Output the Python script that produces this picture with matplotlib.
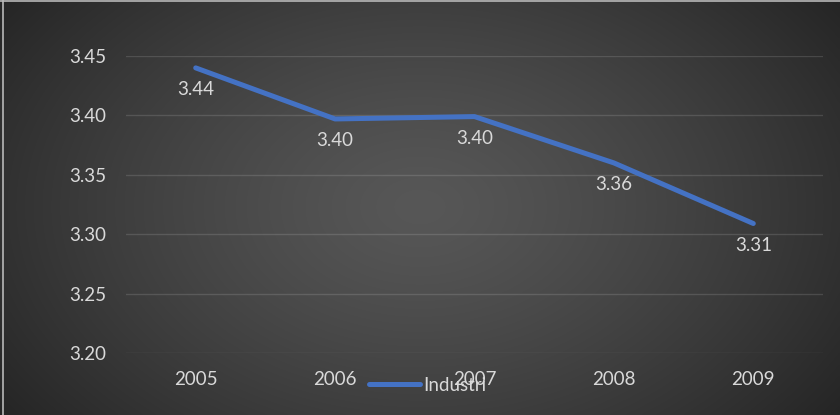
import numpy as np
from matplotlib import pyplot as plt
from matplotlib.lines import Line2D

years = ["2005", "2006", "2007", "2008", "2009"]
industri = [3.44, 3.397, 3.399, 3.36, 3.309]
value_labels = ["3.44", "3.40", "3.40", "3.36", "3.31"]
y_ticks = [3.20, 3.25, 3.30, 3.35, 3.40, 3.45]

W, H = 840, 415
plt.rcParams["font.family"] = ["Lato", "DejaVu Sans"]
FS = 13.5

fig = plt.figure(figsize=(W / 100, H / 100), dpi=100)

# dark radial backdrop
bg = fig.add_axes([0, 0, 1, 1], zorder=0)
gx, gy = np.meshgrid(np.linspace(0, 1, 420), np.linspace(0, 1, 210))
r = np.sqrt(((gx - 0.5) / 0.62) ** 2 + ((gy - 0.5) / 0.85) ** 2)
r = np.clip(r, 0, 1)
shade = (0x57 - (0x57 - 0x25) * r ** 1.3) / 255
bg.imshow(np.dstack([shade, shade, shade]), extent=[0, 1, 0, 1],
          aspect="auto", interpolation="bicubic")
bg.set_axis_off()
fig.add_artist(Line2D([2.5 / W, 2.5 / W], [0, 1], color="#b8b8b8", lw=1.2))
fig.add_artist(Line2D([0, 1], [1 - 1.5 / H, 1 - 1.5 / H], color="#b8b8b8", lw=1.2))

ax = fig.add_axes([126 / W, 1 - 353 / H, (823 - 126) / W, (353 - 56) / H], zorder=1)
ax.set_facecolor("none")
x = np.arange(len(years))
ax.plot(x, industri, color="#4472C4", lw=3.6, solid_capstyle="round",
        solid_joinstyle="round", label="Industri", clip_on=False, zorder=3)
for xi, yi, txt in zip(x, industri, value_labels):
    ax.annotate(txt, (xi, yi), xytext=(0, -22), textcoords="offset pixels",
                ha="center", va="center", color="#d9d9d9", fontsize=FS)

ax.set_xlim(-0.5, len(years) - 0.5)
ax.set_ylim(3.20, 3.45)
ax.set_yticks(y_ticks)
ax.set_yticklabels([f"{v:.2f}" for v in y_ticks])
ax.set_xticks(x)
ax.set_xticklabels(years)
ax.tick_params(length=0, colors="#d9d9d9", labelsize=FS)
ax.tick_params(axis="y", pad=14)
ax.tick_params(axis="x", pad=13)
ax.grid(axis="y", color="white", alpha=0.13, lw=1)
ax.set_axisbelow(True)
for s in ax.spines.values():
    s.set_visible(False)

leg = ax.legend(loc="center left", bbox_to_anchor=(360 / W, 1 - 385 / H),
                bbox_transform=fig.transFigure, frameon=False, borderpad=0,
                handlelength=2.7, handletextpad=0.15, fontsize=FS,
                labelcolor="#d9d9d9")

fig.savefig("out.png", dpi=100)
